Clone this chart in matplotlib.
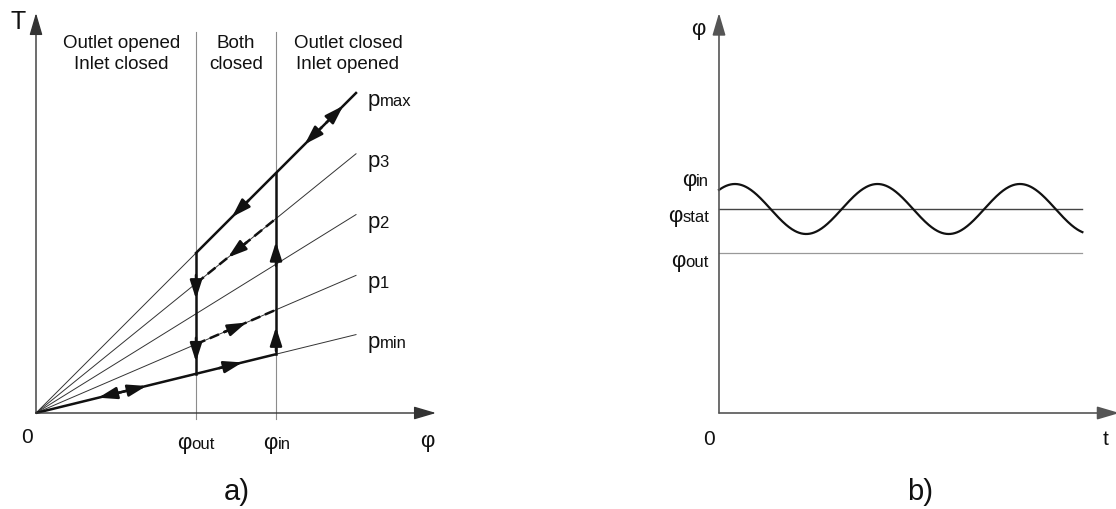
import numpy as np
import matplotlib
matplotlib.use("Agg")
import matplotlib.pyplot as plt

plt.rcParams["font.family"] = ["Liberation Sans", "DejaVu Sans"]

# ---- panel a): T over phi, pressure rays from the origin
PHI_OUT = 2.0
PHI_IN = 3.0
PHI_END = 4.0
AXIS_TIP_A = 5.0
RAY_NAMES = ["max", "3", "2", "1", "min"]
RAY_SLOPES = [1.0, 0.81, 0.62, 0.43, 0.245]
SLOPE = dict(zip(RAY_NAMES, RAY_SLOPES))

REGION_TEXT = ["Outlet opened\nInlet closed", "Both\nclosed", "Outlet closed\nInlet opened"]
REGION_X = [1.07, 2.5, 3.9]

# arrow heads on rays: (ray, phi at tip, direction)
RAY_ARROWS = [("min", 0.78, -1), ("min", 1.38, 1), ("min", 2.58, 1),
              ("max", 3.84, 1), ("max", 3.36, -1), ("max", 2.45, -1),
              ("3", 2.40, -1), ("1", 2.63, 1)]
# arrow heads on verticals: (phi, T at tip, direction)
VERT_ARROWS = [(PHI_IN, 1.075, 1), (PHI_IN, 2.14, 1),
               (PHI_OUT, 1.425, -1), (PHI_OUT, 0.64, -1)]

# ---- panel b): phi over t
PHI_STAT = 5.1
PHI_OUT_B = 4.0
AMP = 0.625
PERIOD = 1.0
T_PEAK = 0.112
T_END = 2.55
T_TIP = 2.81
PHI_TIP = 10.0

INK = "#111111"
HEAD_AX = "-|>,head_length=0.68,head_width=0.2"
HEAD_PATH = "-|>,head_length=0.56,head_width=0.18"


def sub_label(ax, x, y, main, sub, size=16, sub_size=12, ha="left"):
    if ha == "left":
        m = ax.text(x, y, main, fontsize=size, ha="left", va="baseline", color=INK)
        ax.annotate(sub, xy=(1, y), xycoords=(m, "data"), fontsize=sub_size,
                    ha="left", va="baseline", color=INK)
    else:
        s = ax.text(x, y, sub, fontsize=sub_size, ha="right", va="baseline", color=INK)
        ax.annotate(main, xy=(0, y), xycoords=(s, "data"), fontsize=size,
                    ha="right", va="baseline", color=INK)


def axis_arrow(ax, start, tip, color, lw):
    ax.annotate("", xy=tip, xytext=start, annotation_clip=False,
                arrowprops=dict(arrowstyle=HEAD_AX, mutation_scale=20, lw=lw,
                                color=color, shrinkA=0, shrinkB=0))


def path_head(ax, tip, direction):
    d = np.asarray(direction, float)
    d = d / np.hypot(*d)
    tail = np.asarray(tip) - 0.3 * d
    ax.annotate("", xy=tip, xytext=tail,
                arrowprops=dict(arrowstyle=HEAD_PATH, mutation_scale=20, lw=1.8,
                                color=INK, shrinkA=0, shrinkB=0))


fig = plt.figure(figsize=(11.16, 5.10), dpi=100)
axa = fig.add_axes([0, 0, 0.5, 1])
axb = fig.add_axes([0.5, 0, 0.5, 1])
for ax in (axa, axb):
    ax.set_axis_off()

# 1 unit = 80 px in both directions
axa.set_xlim(-0.45, 6.525)
axa.set_ylim(-1.2, 5.175)

# region borders
for p in (PHI_OUT, PHI_IN):
    axa.plot([p, p], [-0.075, 4.76], color="#8c8c8c", lw=0.8)

# thin pressure rays
for name, k in zip(RAY_NAMES, RAY_SLOPES):
    axa.plot([0, PHI_END], [0, k * PHI_END], color="#333333", lw=0.7)
    sub_label(axa, PHI_END + 0.14, k * PHI_END - 0.15, "p", name)

axis_arrow(axa, (0, 0), (AXIS_TIP_A, 0), "#333333", 1.0)
axis_arrow(axa, (0, 0), (0, AXIS_TIP_A), "#333333", 1.0)

# working cycle
kmin, kmax = SLOPE["min"], SLOPE["max"]
axa.plot([0, PHI_IN], [0, kmin * PHI_IN], color=INK, lw=1.8, solid_capstyle="butt")
axa.plot([PHI_IN, PHI_IN], [kmin * PHI_IN, kmax * PHI_IN], color=INK, lw=1.8)
axa.plot([PHI_OUT, PHI_END], [kmax * PHI_OUT, kmax * PHI_END], color=INK, lw=1.8)
axa.plot([PHI_OUT, PHI_OUT], [kmax * PHI_OUT, kmin * PHI_OUT], color=INK, lw=1.8)
for name in ("3", "1"):
    axa.plot([PHI_OUT, PHI_IN], [SLOPE[name] * PHI_OUT, SLOPE[name] * PHI_IN],
             color=INK, lw=1.8, linestyle=(0, (4, 2)))

for name, p, s in RAY_ARROWS:
    path_head(axa, (p, SLOPE[name] * p), (s, s * SLOPE[name]))
for p, t, s in VERT_ARROWS:
    path_head(axa, (p, t), (0, s))

for txt, x in zip(REGION_TEXT, REGION_X):
    axa.text(x, 4.5, txt, fontsize=13.5, ha="center", va="center",
             linespacing=1.3, color=INK)

axa.text(-0.225, 4.9, "T", fontsize=18, ha="center", va="center", color=INK)
axa.text(-0.11, -0.36, "0", fontsize=15, ha="center", va="baseline", color=INK)
sub_label(axa, 1.76, -0.44, "φ", "out")
sub_label(axa, 2.84, -0.44, "φ", "in")
axa.text(4.89, -0.34, "φ", fontsize=16, ha="center", va="center", color=INK)
axa.text(2.51, -0.975, "a)", fontsize=21, ha="center", va="center", color=INK)

# ---- panel b): t in periods (142.5 px), phi 40 px per unit
axb.set_xlim(-1.1298, 2.786)
axb.set_ylim(-2.4, 10.35)

axb.plot([0, T_END], [PHI_OUT_B, PHI_OUT_B], color="#999999", lw=0.9)
axb.plot([0, T_END], [PHI_STAT, PHI_STAT], color="#444444", lw=1.0)
t = np.linspace(0, T_END, 500)
axb.plot(t, PHI_STAT + AMP * np.cos(2 * np.pi * (t - T_PEAK) / PERIOD),
         color=INK, lw=1.6)

axis_arrow(axb, (0, 0), (T_TIP, 0), "#555555", 1.2)
axis_arrow(axb, (0, 0), (0, PHI_TIP), "#555555", 1.2)

sub_label(axb, -0.07, 5.7, "φ", "in", ha="right")
sub_label(axb, -0.07, 4.8, "φ", "stat", ha="right")
sub_label(axb, -0.07, 3.675, "φ", "out", ha="right")
axb.text(-0.147, 9.6, "φ", fontsize=16, ha="center", va="center", color=INK)
axb.text(-0.07, -0.775, "0", fontsize=15, ha="center", va="baseline", color=INK)
axb.text(2.716, -0.775, "t", fontsize=15, ha="center", va="baseline", color=INK)
axb.text(1.41, -1.95, "b)", fontsize=21, ha="center", va="center", color=INK)

fig.savefig("out.png", dpi=100, facecolor="white")
plt.close(fig)
